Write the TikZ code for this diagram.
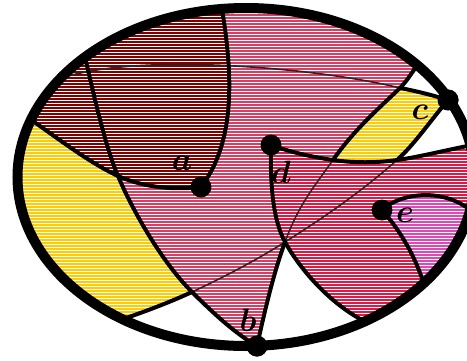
\documentclass[tikz,border=0pt]{standalone}
\usepackage{amsmath,bm}
\usetikzlibrary{calc}
\definecolor{maroonfill}{HTML}{800000}
\definecolor{pinkfill}{HTML}{DA3D62}
\definecolor{redfill}{HTML}{DD1A45}
\definecolor{goldfill}{HTML}{FFCC00}
\definecolor{magentafill}{HTML}{E048B8}
\newcommand{\ptname}[1]{\scalebox{1.3}{\Huge$\bm{#1}$}}
\tikzset{
  rim/.style={line width=10pt},
  seam/.style={line width=4pt, line cap=round},
  thinseam/.style={line width=1.6pt, draw=black!85},
  dot/.style={circle, fill=black, inner sep=0pt, minimum size=21pt},
  lbl/.style={inner sep=0pt}
}

\begin{document}
\begin{tikzpicture}[x=1pt, y=-1pt]
  \useasboundingbox (0,0) rectangle (467,360);
  \node[dot] (a) at (201,187) {};
  \node[dot] (b) at (257,346) {};
  \node[dot] (c) at (448,100) {};
  \node[dot] (d) at (271,145) {};
  \node[dot] (e) at (382,210) {};
  \coordinate (X) at (285,242);
  \coordinate (Y1) at (333,160);
  \coordinate (Y2) at (397,160);
  \coordinate (Y3) at (400,88);
  \coordinate (P) at (118,176);
  \coordinate (Q) at (192,292);
  \coordinate (topA) at (222,9);
  \coordinate (rimL) at (30,119);
  \coordinate (rimS) at (85,57);
  \coordinate (R) at (120,320);
  \coordinate (W) at (62,78);
  \coordinate (U) at (418,64);
  \coordinate (V) at (478,144);
  \coordinate (Z) at (362,320);
  \coordinate (E1) at (475,214);
  \coordinate (E2) at (426,292);

  \begin{scope}
    \clip (246,177) ellipse [x radius=228.5, y radius=169];
    % regions
    \fill[pinkfill] (0,0) rectangle (500,370);
    \fill[maroonfill] (rimL) -- (0,100) -- (0,0) -- (222,0) -- (topA)
      .. controls (232,70) and (237,140) .. (a.center)
      .. controls (175,190) and (145,188) .. (P)
      .. controls (90,163) and (60,140) .. (rimL) -- cycle;
    \fill[goldfill] (rimL) .. controls (60,140) and (90,163) .. (P)
      .. controls (131,207) and (160,260) .. (Q)
      .. controls (168,303) and (144,312) .. (R) -- (100,345) -- (0,345) -- (0,110) -- cycle;
    \fill[white] (R) .. controls (144,312) and (168,303) .. (Q)
      .. controls (214,314) and (236,334) .. (b.center) -- (257,370) -- (110,370) -- cycle;
    \fill[white] (b.center) .. controls (265,310) and (273,275) .. (X)
      .. controls (297,264) and (325,300) .. (Z) -- (400,370) -- (257,370) -- cycle;
    \fill[redfill] (d.center) .. controls (270,185) and (273,220) .. (X)
      .. controls (297,264) and (325,300) .. (Z) -- (400,370) -- (500,370) -- (500,140) -- (V)
      .. controls (450,149) and (420,157) .. (Y2)
      .. controls (376,163) and (354,163) .. (Y1)
      .. controls (312,157) and (290,152) .. (d.center) -- cycle;
    \fill[magentafill] (e.center) .. controls (400,193) and (445,186) .. (E1) -- (500,250) -- (E2)
      .. controls (418,260) and (400,230) .. (e.center) -- cycle;
    \fill[goldfill] (Y1) .. controls (354,130) and (377,110) .. (Y3)
      .. controls (416,91) and (432,95) .. (c.center)
      .. controls (431,120) and (414,145) .. (Y2)
      .. controls (376,163) and (354,163) .. (Y1) -- cycle;
    \fill[white] (Y3) .. controls (407,81) and (413,71) .. (U) -- (425,55) -- (470,80) -- (c.center)
      .. controls (432,95) and (416,91) .. (Y3) -- cycle;
    \fill[white] (c.center) .. controls (431,120) and (414,145) .. (Y2)
      .. controls (420,157) and (450,149) .. (V) -- (500,120) -- (470,80) -- cycle;
    % stripes
    \foreach \yy in {1.5,4.5,...,360} \draw[white, line width=1pt] (0,\yy) -- (500,\yy);
    % thin seams
    \draw[thinseam] (Y3) .. controls (320,68) and (140,52) .. (W);
    \draw[thinseam] (Y2) .. controls (360,193) and (320,220) .. (X)
      .. controls (255,261) and (222,278) .. (Q);
    \draw[thinseam] (X) .. controls (299,204) and (314,187) .. (Y1);
    % thick seams
    \draw[seam] (topA) .. controls (232,70) and (237,140) .. (a.center);
    \draw[seam] (rimL) .. controls (60,140) and (90,163) .. (P)
      .. controls (145,188) and (175,190) .. (a.center);
    \draw[seam] (rimS) .. controls (95,100) and (105,145) .. (P)
      .. controls (131,207) and (160,260) .. (Q)
      .. controls (214,314) and (236,334) .. (b.center);
    \draw[seam] (c.center) .. controls (431,120) and (414,145) .. (Y2);
    \draw[seam] (Q) .. controls (168,303) and (144,312) .. (R);
    \draw[seam] (c.center) .. controls (432,95) and (416,91) .. (Y3);
    \draw[seam] (b.center) .. controls (265,310) and (273,275) .. (X);
    \draw[seam] (Y1) .. controls (354,130) and (377,110) .. (Y3)
      .. controls (407,81) and (413,71) .. (U);
    \draw[seam] (d.center) .. controls (290,152) and (312,157) .. (Y1)
      .. controls (354,163) and (376,163) .. (Y2)
      .. controls (420,157) and (450,149) .. (V);
    \draw[seam] (d.center) .. controls (270,185) and (273,220) .. (X)
      .. controls (297,264) and (325,300) .. (Z);
    \draw[seam] (e.center) .. controls (400,193) and (445,186) .. (E1);
    \draw[seam] (e.center) .. controls (400,230) and (418,260) .. (E2);
  \end{scope}
  \draw[rim] (246,177) ellipse [x radius=228.5, y radius=169];
  \foreach \p in {a,b,c,d,e} \node[dot] at (\p) {};
  \node[lbl] at (182,163) {\ptname{a}};
  \node[lbl] at (248,320) {\ptname{b}};
  \node[lbl] at (420,112) {\ptname{c}};
  \node[lbl] at (281,172) {\ptname{d}};
  \node[lbl] at (405,215) {\ptname{e}};
\end{tikzpicture}
\end{document}
